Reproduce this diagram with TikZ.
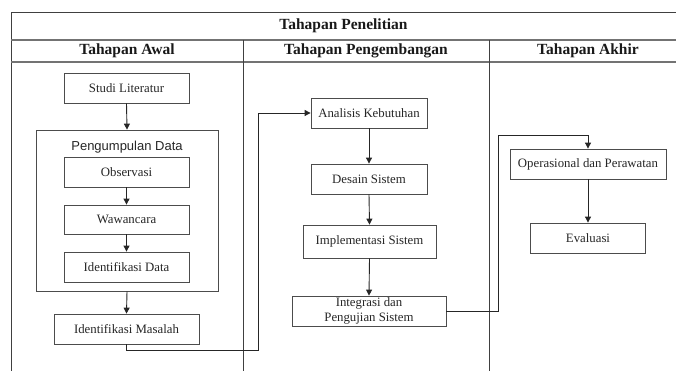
\documentclass[tikz,border=0pt]{standalone}
\usepackage{fontspec}
\setmainfont{Liberation Serif}
\newfontfamily\arialfont{Liberation Sans}
\usetikzlibrary{arrows.meta}
\tikzset{
  box/.style={draw=black!70, line width=0.8pt, fill=white, align=center, inner sep=1pt,
    font=\fontsize{12.8}{15}\selectfont, text=black!85},
  arr/.style={draw=black!85, line width=0.9pt, -{Triangle[length=6pt,width=6pt]}},
  frame/.style={draw=black!75, line width=0.9pt},
  rowline/.style={draw=black!55, line width=1.1pt},
  head/.style={font=\fontsize{15.5}{18}\selectfont\bfseries, text=black!90}
}
\begin{document}
\begin{tikzpicture}[x=1pt,y=-1pt]
\useasboundingbox (0,0) rectangle (676,371);
% table frame
\draw[frame] (676,12) -- (11,12) -- (11,371);
\draw[rowline] (11,40) -- (676,40);
\draw[rowline] (11,62) -- (676,62);
\draw[frame] (243,40) -- (243,371);
\draw[frame] (489,40) -- (489,371);
\node[head] (title) at (343.5,26) {Tahapan Penelitian};
\node[head] (h1) at (127,51) {Tahapan Awal};
\node[head] (h2) at (366,51) {Tahapan Pengembangan};
\node[head] (h3) at (588,51) {Tahapan Akhir};
% container
\node[draw=black!70, line width=0.8pt, minimum width=182pt, minimum height=161pt] (cont) at (127,210.5) {};
\node[font=\arialfont\fontsize{13}{15}\selectfont, text=black!85] (contlbl) at (127,147) {Pengumpulan Data};
% left column boxes
\node[box, minimum width=125pt, minimum height=30pt] (studi) at (126.5,88) {Studi Literatur};
\node[box, minimum width=125pt, minimum height=30pt] (obs) at (126.5,172) {Observasi};
\node[box, minimum width=125pt, minimum height=29pt] (waw) at (126.5,219.5) {Wawancara};
\node[box, minimum width=125pt, minimum height=30pt] (idd) at (126.5,267) {Identifikasi Data};
\node[box, minimum width=145pt, minimum height=30pt] (idm) at (126.5,329) {Identifikasi Masalah};
% middle column
\node[box, minimum width=116pt, minimum height=30pt] (ana) at (369,113) {Analisis Kebutuhan};
\node[box, minimum width=116pt, minimum height=30pt] (des) at (369,179) {Desain Sistem};
\node[box, minimum width=133pt, minimum height=33pt] (imp) at (369.5,241.5) {Implementasi Sistem};
\node[box, minimum width=154pt, minimum height=30pt] (int) at (369,311) {Integrasi dan\\Pengujian Sistem};
% right column
\node[box, minimum width=156pt, minimum height=30pt] (ops) at (588,164) {Operasional dan Perawatan};
\node[box, minimum width=115pt, minimum height=30pt] (eva) at (588,238) {Evaluasi};
% arrows
\draw[arr] (studi.south) -- (cont.north);
\draw[arr] (obs.south) -- (waw.north);
\draw[arr] (waw.south) -- (idd.north);
\draw[arr] (cont.south) -- (idm.north);
\draw[arr] (ana.south) -- (des.north);
\draw[arr] (des.south) -- (imp.north);
\draw[arr] (imp.south) -- (int.north);
\draw[arr] (ops.south) -- (eva.north);
\coordinate (c1) at (258,350);
\coordinate (c2) at (498,135);
\draw[arr] (idm.south) |- (c1) |- (ana.west);
\draw[arr] (int.east) -| (c2) -| (ops.north);
\end{tikzpicture}
\end{document}
